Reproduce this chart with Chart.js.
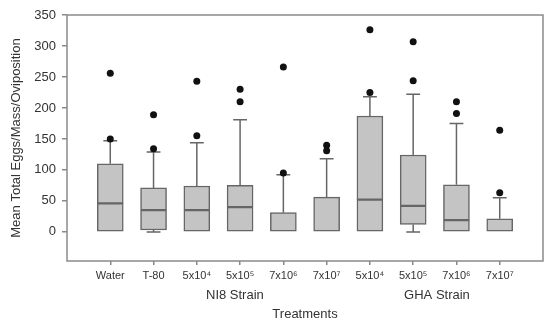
<!DOCTYPE html>
<html>
<head>
<meta charset="utf-8">
<script src="https://cdn.jsdelivr.net/npm/chart.js@4/dist/chart.umd.min.js"></script>
<style>
  html, body { margin: 0; padding: 0; background: #fff; }
  #wrap { width: 550px; height: 326px; }
</style>
</head>
<body>
<div id="wrap"><canvas id="c" width="550" height="326"></canvas></div>
<script>
// ---- data ----
const categories = ['Water', 'T-80', '5x10\u2074', '5x10\u2075', '7x10\u2076', '7x10\u2077', '5x10\u2074', '5x10\u2075', '7x10\u2076', '7x10\u2077'];
const groupLabels = ['NI8 Strain', 'GHA Strain'];
const q1          = [0,   3,   0,   0,   0,   0,   0,   12,  0,   0];
const median      = [46,  35,  35,  40,  0,   0,   52,  42,  19,  0];
const q3          = [110, 71,  74,  75,  31,  56,  187, 124, 76,  21];
const whiskerLow  = [0,   0,   0,   0,   0,   0,   0,   0,   0,   0];
const whiskerHigh = [147, 129, 144, 181, 92,  118, 218, 222, 175, 55];
const outliers    = [[256,150],[189,134],[243,155],[230,210],[266,95],[140,131],[326,225],[307,244],[210,191],[164,63]];
const yTicks      = [0, 50, 100, 150, 200, 250, 300, 350];

// ---- build datasets ----
const pos = categories.map((_, i) => i + 1);
const capHalf = 0.16;
const lowerBox = pos.map((x, i) => ({ x, y: [q1[i], median[i]] }));
const upperBox = pos.map((x, i) => ({ x, y: [median[i], q3[i]] }));
const whiskers = [];
pos.forEach((x, i) => {
  whiskers.push({ x, y: q3[i] }, { x, y: whiskerHigh[i] }, { x, y: null });
  whiskers.push({ x: x - capHalf, y: whiskerHigh[i] }, { x: x + capHalf, y: whiskerHigh[i] }, { x, y: null });
  if (q1[i] > whiskerLow[i]) {
    whiskers.push({ x, y: q1[i] }, { x, y: whiskerLow[i] }, { x, y: null });
    whiskers.push({ x: x - capHalf, y: whiskerLow[i] }, { x: x + capHalf, y: whiskerLow[i] }, { x, y: null });
  }
});
const outlierPts = [];
pos.forEach((x, i) => outliers[i].forEach(v => outlierPts.push({ x, y: v })));

const frameColor = '#8a8a8a';
const boxBorder = '#666666';
const textColor = '#333333';
const fontFamily = "'Liberation Sans', Arial, sans-serif";

const framePlugin = {
  id: 'frame',
  afterDraw(chart) {
    const { ctx, chartArea: a, scales } = chart;
    ctx.save();
    ctx.strokeStyle = frameColor;
    ctx.lineWidth = 1.5;
    ctx.strokeRect(a.left, a.top, a.right - a.left, a.bottom - a.top);
    // group labels under the tick labels
    ctx.fillStyle = textColor;
    ctx.font = '13px ' + fontFamily;
    ctx.textAlign = 'center';
    ctx.textBaseline = 'middle';
    const gpos = [3.88, 8.55];
    groupLabels.forEach((t, i) => ctx.fillText(t, scales.x.getPixelForValue(gpos[i]), 295));
    ctx.restore();
  }
};

new Chart(document.getElementById('c'), {
  type: 'bar',
  data: {
    datasets: [
      { type: 'line', data: outlierPts, showLine: false, pointRadius: 3.5, pointBackgroundColor: '#111', pointBorderColor: '#111', pointBorderWidth: 0, order: 0 },
      { type: 'bar', data: lowerBox, backgroundColor: '#c4c4c4', borderColor: boxBorder, borderWidth: 1.5, borderSkipped: false, barThickness: 26, grouped: false, order: 1 },
      { type: 'bar', data: upperBox, backgroundColor: '#c4c4c4', borderColor: boxBorder, borderWidth: 1.5, borderSkipped: false, barThickness: 26, grouped: false, order: 1 },
      { type: 'line', data: whiskers, borderColor: boxBorder, borderWidth: 1.5, pointRadius: 0, spanGaps: false, fill: false, order: 2 }
    ]
  },
  options: {
    responsive: false,
    animation: false,
    events: [],
    layout: { padding: { top: 15, right: 7, left: 0, bottom: 0 } },
    plugins: { legend: { display: false }, tooltip: { enabled: false } },
    scales: {
      x: {
        type: 'linear',
        min: 0, max: 11,
        offset: false,
        afterBuildTicks: s => { s.ticks = pos.map(v => ({ value: v })); },
        afterFit: s => { s.height = 65; },
        grid: { display: true, offset: false, drawOnChartArea: false, drawTicks: true, tickLength: 4, color: frameColor, lineWidth: 1.5 },
        border: { display: false },
        ticks: { autoSkip: false, maxRotation: 0, padding: 4, color: textColor, font: { size: 11, family: fontFamily }, callback: v => categories[v - 1] ?? '' },
        title: { display: true, text: 'Treatments', color: textColor, font: { size: 13, family: fontFamily }, padding: { top: 0, bottom: 4 } }
      },
      y: {
        type: 'linear',
        min: -47, max: 350,
        afterBuildTicks: s => { s.ticks = yTicks.map(v => ({ value: v })); },
        afterFit: s => { s.width = 67; },
        grid: { display: true, drawOnChartArea: false, drawTicks: true, tickLength: 5, color: frameColor, lineWidth: 1.5 },
        border: { display: false },
        ticks: { padding: 6, color: textColor, font: { size: 13, family: fontFamily } },
        title: { display: true, text: 'Mean Total Eggs/Mass/Oviposition', color: textColor, font: { size: 13, family: fontFamily }, padding: { top: 9, bottom: 0 } }
      }
    }
  },
  plugins: [framePlugin]
});
</script>
</body>
</html>
